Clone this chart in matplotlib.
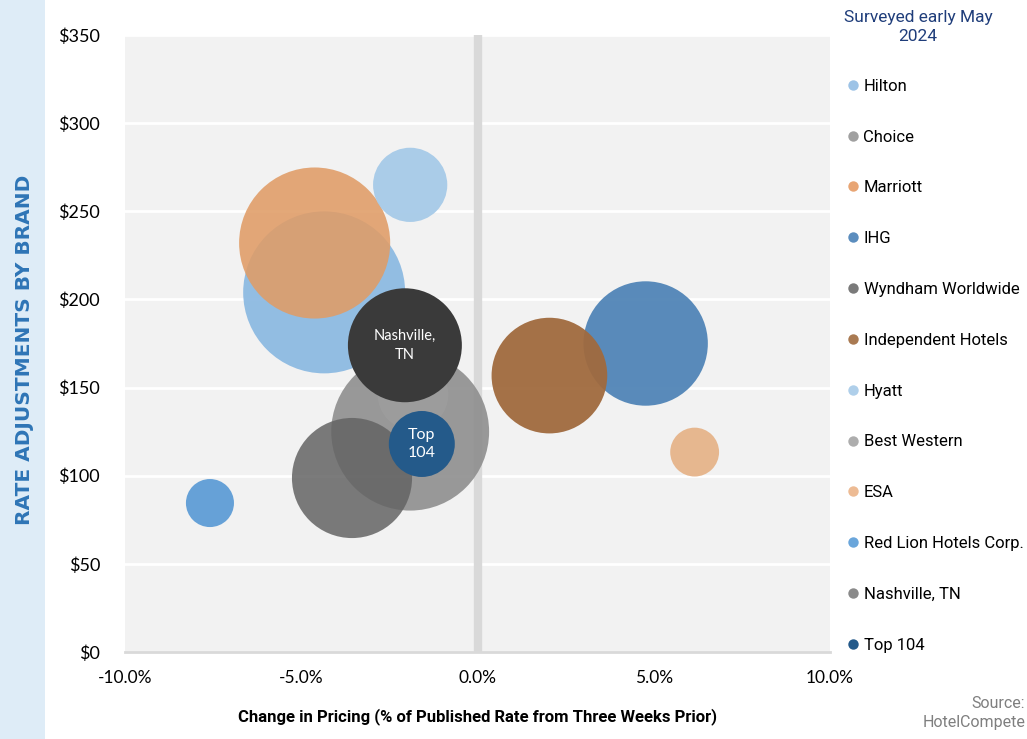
import matplotlib
matplotlib.use("Agg")
import matplotlib.pyplot as plt
from matplotlib.ticker import FuncFormatter
from matplotlib.lines import Line2D
from matplotlib.patches import Rectangle

brands = ["Hilton", "Choice", "Marriott", "IHG", "Wyndham Worldwide",
          "Independent Hotels", "Hyatt", "Best Western", "ESA",
          "Red Lion Hotels Corp.", "Nashville, TN", "Top 104"]
price_change = [-4.35, -1.91, -4.62, 4.77, -3.56, 2.04, -1.91, -1.83, 6.16, -7.59, -2.06, -1.58]
rate = [204, 125, 232, 175, 98.7, 156.8, 265, 146, 113.4, 84.5, 174, 118]
bubble_weight = [100, 95, 87, 59, 55, 51, 21, 19, 9.1, 8.8, 49.5, 16.6]
bubble_labels = {"Nashville, TN": "Nashville,\nTN", "Top 104": "Top\n104"}

colors = ["#8DBAE2", "#8E8E8E", "#E09C66", "#5185B7", "#646464", "#A06A3E",
          "#A6CAE8", "#9E9E9E", "#E6B48A", "#5E9DD6", "#3A3A3A", "#245A8A"]
legend_colors = ["#9DC3E6", "#A0A0A0", "#E8A574", "#5B8DBE", "#7A7A7A", "#A97A52",
                 "#AFCFEA", "#ADADAD", "#EDBB94", "#6AA6DB", "#8A8A8A", "#245A8A"]
alphas = [0.95, 0.9, 0.88, 0.95, 0.85, 0.95, 0.95, 0.8, 0.95, 0.95, 1.0, 1.0]

NARROW = ["Roboto", "DejaVu Sans"]
TICKFONT = ["Lato", "DejaVu Sans"]

fig = plt.figure(figsize=(10.27, 7.39), dpi=100, facecolor="white")
fig.patches.append(Rectangle((0, 0), 45 / 1027, 1, transform=fig.transFigure,
                             facecolor="#DEECF7", edgecolor="none", zorder=0))

ax = fig.add_axes([125 / 1027, 87 / 739, 705 / 1027, 617 / 739])
ax.set_facecolor("#F2F2F2")
ax.set_xlim(-10, 10)
ax.set_ylim(0, 350)
ax.set_yticks(range(0, 351, 50))
ax.set_xticks([-10, -5, 0, 5, 10])
ax.yaxis.set_major_formatter(FuncFormatter(lambda v, p: f"${v:.0f}"))
ax.xaxis.set_major_formatter(FuncFormatter(lambda v, p: f"{v:.1f}%"))
ax.grid(axis="y", color="white", linewidth=2, zorder=0)
ax.set_axisbelow(True)
for s in ["top", "right", "left"]:
    ax.spines[s].set_visible(False)
ax.spines["bottom"].set_color("#D9D9D9")
ax.spines["bottom"].set_linewidth(2)
ax.tick_params(axis="x", length=0, labelsize=12.5, pad=13)
ax.tick_params(axis="y", length=0, labelsize=13, pad=18)
for lab in ax.get_xticklabels() + ax.get_yticklabels():
    lab.set_family(TICKFONT)
ax.axvline(0, color="#D9D9D9", linewidth=6, zorder=1)

scale = 136
for i, b in enumerate(brands):
    ax.scatter(price_change[i], rate[i], s=bubble_weight[i] * scale, color=colors[i],
               alpha=alphas[i], edgecolors="none", zorder=2 + i)
    if b in bubble_labels:
        ax.text(price_change[i], rate[i], bubble_labels[b], ha="center", va="center",
                color="white", fontsize=11.5 if b == "Top 104" else 10.5,
                family=TICKFONT, linespacing=1.45, zorder=20)

ax.set_xlabel("Change in Pricing (% of Published Rate from Three Weeks Prior)",
              fontsize=12, fontweight="bold", family=NARROW, labelpad=16)
fig.text(25 / 1027, 1 - 350 / 739, "RATE ADJUSTMENTS BY BRAND", rotation=90,
         ha="center", va="center", fontsize=14.5, fontweight="bold", color="#2E75B6")

handles = [Line2D([], [], marker="o", linestyle="none", markersize=7.5,
                  markerfacecolor=c, markeredgecolor="none") for c in legend_colors]
leg = fig.legend(handles, brands, loc="upper left", bbox_to_anchor=(836 / 1027, 1 - 72 / 739),
                 frameon=False, handletextpad=0.05, labelspacing=2.15, borderaxespad=0,
                 prop={"family": NARROW, "size": 12}, handlelength=1.2)

fig.text(918 / 1027, 1 - 27 / 739, "Surveyed early May\n2024", ha="center", va="center",
         fontsize=12.5, color="#1F3D7A", family=NARROW, linespacing=1.4)
fig.text(1025 / 1027, 1 - 713 / 739, "Source:\nHotelCompete", ha="right", va="center",
         fontsize=11.5, color="#7F7F7F", family=NARROW, multialignment="right", linespacing=1.3)

fig.savefig("out.png", dpi=100, facecolor="white")
